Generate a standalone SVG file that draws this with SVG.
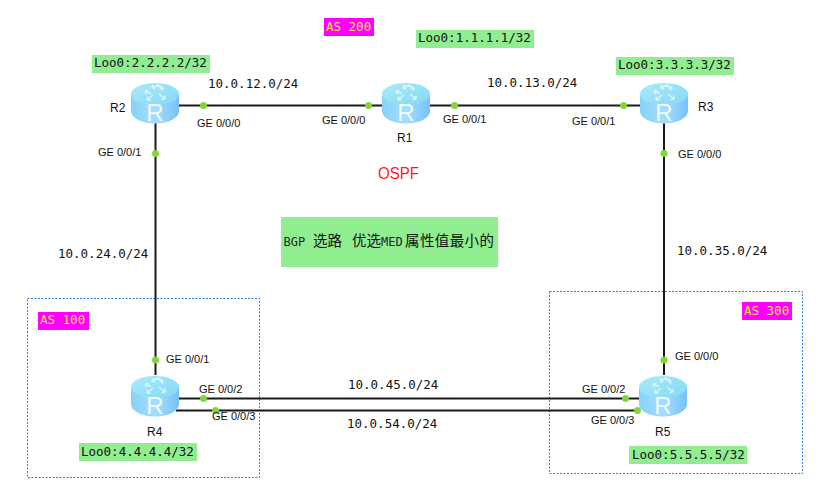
<svg xmlns="http://www.w3.org/2000/svg" width="828" height="495" viewBox="0 0 828 495">
<style>
.mono{font-family:"DejaVu Sans Mono","Liberation Mono",monospace;font-size:12.5px;fill:#111}
.port{font-family:"Liberation Sans",Arial,sans-serif;font-size:11px;fill:#111}
.name{font-family:"Liberation Sans",Arial,sans-serif;font-size:12px;fill:#111}
.link{stroke:#1a1a1a;stroke-width:2;fill:none}
.dot{fill:#84d43c}
.area{fill:none;stroke:#2f7fd8;stroke-width:1;stroke-dasharray:2 1.5}
.loop{fill:#90ee90}
.as{fill:#ff00ff}
.astext{font-family:"DejaVu Sans Mono","Liberation Mono",monospace;font-size:12.5px;fill:#f5e642}
.cjk{font-family:"Noto Sans CJK SC",sans-serif;font-size:14.5px;fill:#111}
.latin{font-family:"DejaVu Sans Mono","Liberation Mono",monospace;font-size:12px;fill:#223}
</style>
<defs>
<linearGradient id="side" x1="0" x2="1" y1="0" y2="0">
<stop offset="0" stop-color="#86d2f8"/><stop offset="0.5" stop-color="#a4deff"/><stop offset="1" stop-color="#76c2f6"/>
</linearGradient>
<linearGradient id="top" x1="0" x2="1" y1="0" y2="1">
<stop offset="0" stop-color="#a8ebfa"/><stop offset="1" stop-color="#86d8f4"/>
</linearGradient>
<symbol id="router" viewBox="0 0 48 42" width="48" height="42" overflow="visible">
<path d="M0 12V29C0 36 11 41.500 24 41.500S48 36 48 29V12Z" fill="url(#side)"/>
<ellipse cx="24" cy="12" rx="24" ry="11" fill="url(#top)"/>
<path d="M14 9l6 2.500m-6-2.500l1.500 3.500m-1.500-3.500l3.500-.5M26 3l6 3m0 0l-3.500 .5m3.500-.5l-1 3M22 13l-6 5m0 0l3.500 0m-3.500 0l.5-3.500M28 12l6 5m0 0l-3.500 .5m3.500-.5l0-3.500M27 3l-6 3m0 0l3 1m-3-1l1-3" stroke="#d8f6ff" stroke-width="1.500" fill="none"/>
<text x="24" y="39" text-anchor="middle" font-family="Liberation Sans,Arial,sans-serif" font-size="24" fill="#f2fbff">R</text>
</symbol>
</defs>

<rect class="area" x="27.500" y="298.500" width="232" height="179"/>
<rect class="area" x="549.500" y="291.500" width="253" height="182"/>

<g id="connectors">
<path class="link" d="M179 105.500H382"/>
<path class="link" d="M430 105.500H640"/>
<path class="link" d="M155.500 123V375"/>
<path class="link" d="M664 123V375"/>
<path class="link" d="M179 398.500H640"/>
<path class="link" d="M176 410.500H640"/>
<g>
<circle class="dot" cx="203.500" cy="105.500" r="3.500"/>
<circle class="dot" cx="368.500" cy="105.500" r="3.500"/>
<circle class="dot" cx="454.500" cy="105.500" r="3.500"/>
<circle class="dot" cx="623.500" cy="105.500" r="3.500"/>
<circle class="dot" cx="155.500" cy="153.500" r="3.500"/>
<circle class="dot" cx="155.500" cy="360" r="3.500"/>
<circle class="dot" cx="664" cy="153.500" r="3.500"/>
<circle class="dot" cx="664" cy="360" r="3.500"/>
<circle class="dot" cx="203.500" cy="398.500" r="3.500"/>
<circle class="dot" cx="215.500" cy="410.500" r="3.500"/>
<circle class="dot" cx="625.500" cy="398.500" r="3.500"/>
<circle class="dot" cx="637.500" cy="410.500" r="3.500"/>
</g>
<g class="mono">
<text x="208" y="88">10.0.12.0/24</text>
<text x="487" y="87">10.0.13.0/24</text>
<text x="58" y="258">10.0.24.0/24</text>
<text x="677" y="255">10.0.35.0/24</text>
<text x="348" y="389">10.0.45.0/24</text>
<text x="347" y="428">10.0.54.0/24</text>
</g>
<g class="port">
<text x="197" y="127">GE 0/0/0</text>
<text x="322" y="124">GE 0/0/0</text>
<text x="443" y="123">GE 0/0/1</text>
<text x="572" y="125">GE 0/0/1</text>
<text x="98" y="156">GE 0/0/1</text>
<text x="678" y="158">GE 0/0/0</text>
<text x="166" y="363">GE 0/0/1</text>
<text x="675" y="360">GE 0/0/0</text>
<text x="199" y="393">GE 0/0/2</text>
<text x="212" y="420">GE 0/0/3</text>
<text x="582" y="393">GE 0/0/2</text>
<text x="591" y="424">GE 0/0/3</text>
</g>
</g>

<g id="R1"><use href="#router" x="382" y="82"/><text class="name" x="397" y="142">R1</text></g>
<g id="R2"><use href="#router" x="131" y="82"/><text class="name" x="110" y="112">R2</text></g>
<g id="R3"><use href="#router" x="640" y="82"/><text class="name" x="698" y="111">R3</text></g>
<g id="R4"><use href="#router" x="131" y="375"/><text class="name" x="147" y="436">R4</text></g>
<g id="R5"><use href="#router" x="639" y="375"/><text class="name" x="655" y="436">R5</text></g>

<g id="loopback-R1"><rect class="loop" x="416" y="30" width="118" height="18"/><text class="mono" x="418" y="42">Loo0:1.1.1.1/32</text></g>
<g id="loopback-R2"><rect class="loop" x="92" y="55" width="118" height="18"/><text class="mono" x="94" y="67">Loo0:2.2.2.2/32</text></g>
<g id="loopback-R3"><rect class="loop" x="616" y="57" width="118" height="18"/><text class="mono" x="618" y="69">Loo0:3.3.3.3/32</text></g>
<g id="loopback-R4"><rect class="loop" x="79" y="443" width="118" height="18"/><text class="mono" x="81" y="456">Loo0:4.4.4.4/32</text></g>
<g id="loopback-R5"><rect class="loop" x="629" y="446" width="118" height="18"/><text class="mono" x="632" y="459">Loo0:5.5.5.5/32</text></g>

<g id="as200"><rect class="as" x="324" y="18" width="50" height="18"/><text class="astext" x="326" y="31">AS 200</text></g>
<g id="as100"><rect class="as" x="38" y="312" width="51" height="18"/><text class="astext" x="40" y="324">AS 100</text></g>
<g id="as300"><rect class="as" x="742" y="302" width="50" height="18"/><text class="astext" x="744" y="315">AS 300</text></g>

<text id="ospf" x="378" y="179" font-family="Liberation Sans,Arial,sans-serif" font-size="16" fill="#ff1a1a" textLength="41" lengthAdjust="spacingAndGlyphs">OSPF</text>

<g id="note"><rect x="281" y="217" width="217" height="50" fill="#90ee90"/>
<text class="latin" x="283.500" y="246">BGP</text>
<text class="cjk" x="313" y="246">选路</text>
<text class="cjk" x="352" y="246">优选</text>
<text class="latin" x="381" y="246">MED</text>
<text class="cjk" x="405" y="246" textLength="89" lengthAdjust="spacing">属性值最小的</text>
</g>
</svg>
